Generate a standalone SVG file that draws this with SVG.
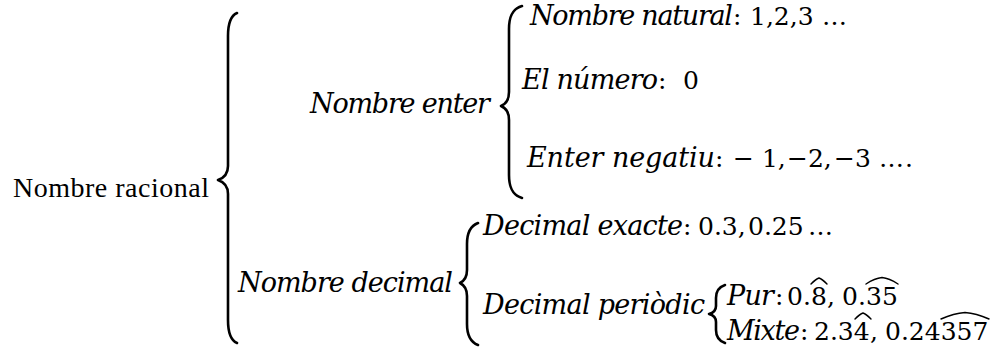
<svg xmlns="http://www.w3.org/2000/svg" width="995" height="349" viewBox="0 0 995 349">
<style>
.t{font-family:"DejaVu Serif","Liberation Serif",serif;font-size:25px;fill:#000}
.i{font-style:italic;font-size:27px}
.r{font-family:"Liberation Serif","Times New Roman",serif;font-size:28px;fill:#000}
.brace{fill:none;stroke:#000;stroke-width:2.6;stroke-linecap:round;stroke-linejoin:round}
.hat{fill:none;stroke:#000;stroke-width:1.4;stroke-linecap:round}
</style>
<rect width="995" height="349" fill="#fff"/>
<g id="connectors">
<path class="brace" d="M 237 13 C 230 16, 228 24, 228 36 L 228 166 C 228 174, 224 178, 218 180 C 224 182, 228 186, 228 194 L 228 320 C 228 332, 230 340, 237 343"/>
<path class="brace" d="M 522 6 C 512 9, 509 17, 509 29 L 509 92 C 509 100, 506 104, 501 106 C 506 108, 509 112, 509 120 L 509 175 C 509 187, 512 195, 522 198"/>
<path class="brace" d="M 478 223 C 470 226, 467 233, 467 244 L 467 270 C 467 277, 464 281, 460 283 C 464 285, 467 289, 467 296 L 467 324 C 467 335, 470 342, 478 345"/>
<path class="brace" d="M 725 285 C 719 287, 716 291, 716 298 L 716 306 C 716 310, 713 313, 709 314 C 713 315, 716 318, 716 322 L 716 330 C 716 337, 719 341, 725 343"/>
</g>
<g id="racional">
<text class="r" x="13" y="197" textLength="196">Nombre racional</text>
</g>
<g id="enter">
<text class="t i" x="310" y="113" textLength="180">Nombre enter</text>
</g>
<g id="natural">
<text class="t i" x="530" y="25" textLength="203">Nombre natural</text>
<text class="t" x="733" y="25">:</text>
<text class="t" x="750" y="25">1,2,3</text>
<text class="t" x="822" y="25">…</text>
</g>
<g id="zero">
<text class="t i" x="522" y="89" textLength="136">El número</text>
<text class="t" x="658" y="89">:</text>
<text class="t" x="683" y="89">0</text>
</g>
<g id="negatiu">
<text class="t i" x="527" y="167" textLength="188">Enter negatiu</text>
<text class="t" x="715" y="167">:</text>
<text class="t" x="733" y="167">− 1,</text>
<text class="t" x="787" y="167">−2,</text>
<text class="t" x="834" y="167">−3</text>
<text class="t" x="879" y="167">…</text>
<text class="t" x="905" y="167">.</text>
</g>
<g id="decimal">
<text class="t i" x="238" y="292" textLength="215">Nombre decimal</text>
</g>
<g id="exacte">
<text class="t i" x="483" y="235" textLength="200">Decimal exacte</text>
<text class="t" x="683" y="235">:</text>
<text class="t" x="698" y="235">0.3,</text>
<text class="t" x="748" y="235">0.25</text>
<text class="t" x="808" y="235">…</text>
</g>
<g id="periodic">
<text class="t i" x="483" y="314" textLength="222">Decimal periòdic</text>
</g>
<g id="pur">
<text class="t i" x="727" y="305" textLength="47">Pur</text>
<text class="t" x="775" y="305">:</text>
<text class="t" x="787" y="305">0.</text>
<text class="t" x="811" y="305">8,</text>
<text class="t" x="842" y="305">0.</text>
<text class="t" x="866" y="305">35</text>
<path class="hat" d="M 811 284 C 814 281, 816 279, 819 278 C 822 279, 824 281, 827 284"/>
<path class="hat" d="M 866 284 C 872 280, 877 278, 882 277.5 C 887 278, 892 280, 898 284"/>
</g>
<g id="mixte">
<text class="t i" x="727" y="340" textLength="73">Mixte</text>
<text class="t" x="800" y="340">:</text>
<text class="t" x="814" y="340">2.34</text>
<text class="t" x="870" y="340">,</text>
<text class="t" x="885" y="340">0.24357</text>
<path class="hat" d="M 855 319 C 858 316, 860 314, 863 313 C 866 314, 868 316, 871 319"/>
<path class="hat" d="M 941 319 C 950 315, 958 313, 965 312.5 C 972 313, 980 315, 989 319"/>
</g>
</svg>
